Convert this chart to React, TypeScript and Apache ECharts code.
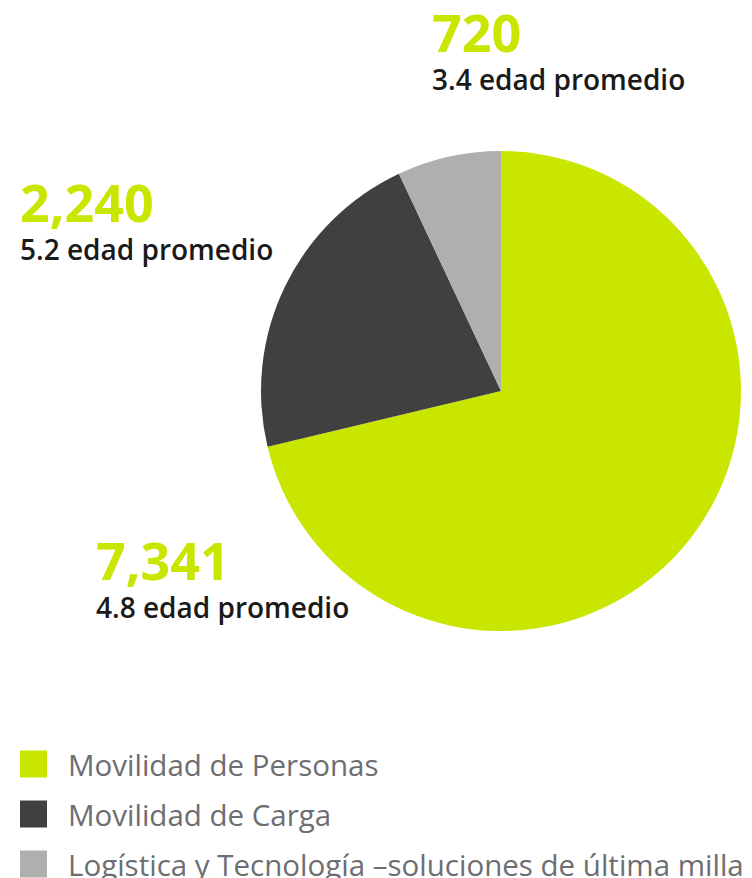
import React, { useEffect, useRef } from "react";
import * as echarts from "echarts";

const categories = [
  "Movilidad de Personas",
  "Movilidad de Carga",
  "Logística y Tecnología –soluciones de última milla",
];
const values = [7341, 2240, 720];
const ages = ["4.8", "5.2", "3.4"];
const colors = ["#c8e600", "#404040", "#b0afad"];
const labelPos = [
  { x: 96, y: 531 },
  { x: 20, y: 173 },
  { x: 432, y: 3 },
];

const FONT = "'Open Sans', sans-serif";

export default function App() {
  const ref = useRef<HTMLDivElement>(null);
  useEffect(() => {
    document.body.style.margin = "0";
    const chart = echarts.init(ref.current!, null, { renderer: "svg" });
    chart.setOption({
      animation: false,
      backgroundColor: "#ffffff",
      color: colors,
      legend: {
        orient: "vertical",
        left: 20,
        top: 749,
        height: 300,
        padding: 0,
        icon: "rect",
        itemWidth: 27,
        itemHeight: 27,
        itemGap: 20,
        selectedMode: false,
        textStyle: {
          fontFamily: FONT,
          fontSize: 29.5,
          color: "#6d6e71",
          padding: [0, 0, 0, 16],
          lineHeight: 27,
        },
        data: categories,
      },
      series: [
        {
          type: "pie",
          center: [501, 391],
          radius: 240,
          startAngle: 90,
          clockwise: true,
          silent: true,
          data: categories.map((name, i) => ({ name, value: values[i] })),
          labelLine: { show: false },
          label: {
            show: true,
            position: "outside",
            overflow: "none",
            formatter: (p: any) =>
              `{v|${values[p.dataIndex].toLocaleString("en-US")}}\n{s|${ages[p.dataIndex]} edad promedio}`,
            rich: {
              v: {
                fontFamily: FONT,
                fontWeight: 700,
                fontSize: 52,
                lineHeight: 56,
                color: "#c8e600",
              },
              s: {
                fontFamily: FONT,
                fontWeight: 600,
                fontSize: 28,
                lineHeight: 39,
                color: "#1a1a1a",
              },
            },
          },
          labelLayout: (params: any) => ({
            x: labelPos[params.dataIndex].x,
            y: labelPos[params.dataIndex].y,
            align: "left",
            verticalAlign: "top",
            hideOverlap: false,
            moveOverlap: false,
          }),
        },
      ],
    });
    return () => chart.dispose();
  }, []);
  return <div ref={ref} style={{ width: 752, height: 878 }} />;
}
